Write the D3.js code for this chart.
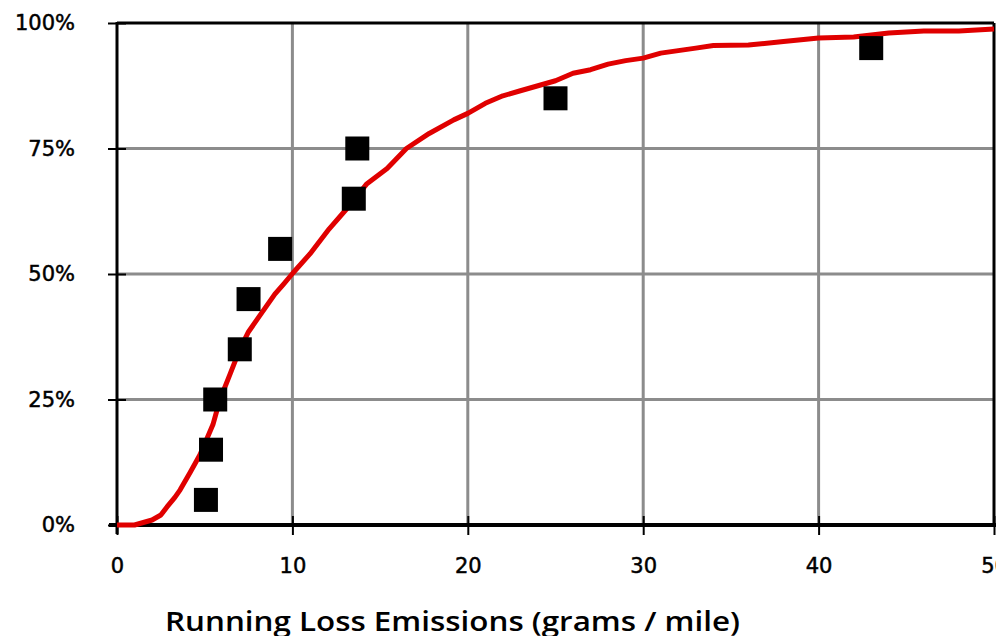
<!DOCTYPE html>
<html>
<head>
<meta charset="utf-8">
<script src="https://cdn.jsdelivr.net/npm/d3@7"></script>
<style>
  body { margin: 0; background: #fff; }
  svg { display: block; }
</style>
</head>
<body>
<div id="chart"></div>
<script>
// observed data (squares)
var obsX = [5.07, 5.36, 5.6, 7.0, 7.5, 9.3, 13.5, 13.7, 25.0, 43.0];
var obsY = [0.05, 0.15, 0.25, 0.35, 0.45, 0.55, 0.65, 0.75, 0.85, 0.95];

// modelled distribution (red curve)
var curveX = [0, 1.0, 1.5, 2.0, 2.5, 2.85, 3.3, 3.6, 4.16, 4.73, 5.1, 5.47, 5.87, 6.44, 7.0, 7.5, 8.0, 8.5, 9.0, 9.5,
              10.03, 11.0, 12.1, 13.1, 14.25, 15.4, 16.5, 17.8, 19.2, 20, 21, 22, 23, 24, 25, 26, 27, 28, 29, 30,
              31, 32, 33, 34, 36, 38, 40, 42, 44, 46, 48, 50];
var curveY = [0, 0, 0.005, 0.01, 0.02, 0.036, 0.055, 0.07, 0.104, 0.14, 0.17, 0.20, 0.25, 0.30, 0.35, 0.385, 0.41, 0.435, 0.46, 0.48,
              0.502, 0.54, 0.59, 0.63, 0.68, 0.71, 0.75, 0.78, 0.807, 0.82, 0.84, 0.855, 0.865, 0.875, 0.885, 0.90, 0.907, 0.918, 0.925, 0.93,
              0.94, 0.945, 0.95, 0.955, 0.956, 0.963, 0.97, 0.972, 0.98, 0.984, 0.984, 0.988];

var xTicks = [0, 10, 20, 30, 40, 50];
var yTicks = [0, 0.25, 0.5, 0.75, 1];
var xTitle = "Running Loss Emissions (grams / mile)";

var width = 996, height = 636;
var mLeft = 117, mRight = 994, mTop = 23, mBottom = 525;

var x = d3.scaleLinear().domain([0, 50]).range([mLeft, mRight]);
var y = d3.scaleLinear().domain([0, 1]).range([mBottom, mTop]);

var svg = d3.select("#chart").append("svg")
    .attr("width", width)
    .attr("height", height);

// grid
svg.append("g").selectAll("line")
    .data(xTicks.slice(1, -1))
    .enter().append("line")
    .attr("x1", d => x(d)).attr("x2", d => x(d))
    .attr("y1", mTop).attr("y2", mBottom)
    .attr("stroke", "#8c8c8c").attr("stroke-width", 3);

svg.append("g").selectAll("line")
    .data(yTicks.slice(1, -1))
    .enter().append("line")
    .attr("x1", mLeft).attr("x2", mRight)
    .attr("y1", d => y(d)).attr("y2", d => y(d))
    .attr("stroke", "#8c8c8c").attr("stroke-width", 3);

// frame
svg.append("line").attr("x1", mLeft).attr("x2", mRight).attr("y1", mTop).attr("y2", mTop)
    .attr("stroke", "#000").attr("stroke-width", 3);
svg.append("line").attr("x1", mRight).attr("x2", mRight).attr("y1", mTop).attr("y2", mBottom)
    .attr("stroke", "#000").attr("stroke-width", 3);

// axes
var xAxis = d3.axisBottom(x).tickValues(xTicks).tickSize(10).tickPadding(23).tickSizeOuter(0);
var gx = svg.append("g").attr("transform", "translate(0," + mBottom + ")").call(xAxis);
gx.select(".domain").remove();
gx.selectAll(".tick line").attr("y1", -9).attr("stroke-width", 2);
gx.append("line").attr("x1", mLeft - 8).attr("x2", mRight + 2).attr("stroke", "#000").attr("stroke-width", 4);

var yAxis = d3.axisLeft(y).tickValues(yTicks).tickFormat(d3.format(".0%")).tickSize(9).tickPadding(33).tickSizeOuter(0);
var gy = svg.append("g").attr("transform", "translate(" + mLeft + ",0)").call(yAxis);
gy.select(".domain").remove();
gy.selectAll(".tick line").attr("x1", 9).attr("stroke-width", 2);
gy.append("line").attr("y1", mTop - 1).attr("y2", mBottom + 9).attr("stroke", "#000").attr("stroke-width", 3);

svg.selectAll(".tick text")
    .attr("font-family", "'DejaVu Sans', sans-serif")
    .attr("font-size", 21)
    .attr("fill", "#000")
    .attr("stroke", "#000")
    .attr("stroke-width", 0.5);

// curve
var line = d3.line()
    .x(function (d) { return x(d[0]); })
    .y(function (d) { return y(d[1]); });

svg.append("path")
    .datum(curveX.map(function (v, i) { return [v, curveY[i]]; }))
    .attr("d", line)
    .attr("fill", "none")
    .attr("stroke", "#e00000")
    .attr("stroke-width", 5)
    .attr("stroke-linejoin", "round");

// squares
var s = 24;
svg.append("g").selectAll("rect")
    .data(obsX.map(function (v, i) { return [v, obsY[i]]; }))
    .enter().append("rect")
    .attr("x", d => x(d[0]) - s / 2)
    .attr("y", d => y(d[1]) - s / 2)
    .attr("width", s).attr("height", s)
    .attr("fill", "#000");

// title
svg.append("text")
    .attr("x", 165).attr("y", 631)
    .attr("font-family", "'Open Sans', sans-serif")
    .attr("font-weight", 600)
    .attr("font-size", 27)
    .attr("textLength", 575)
    .attr("lengthAdjust", "spacingAndGlyphs")
    .text(xTitle);
</script>
</body>
</html>
